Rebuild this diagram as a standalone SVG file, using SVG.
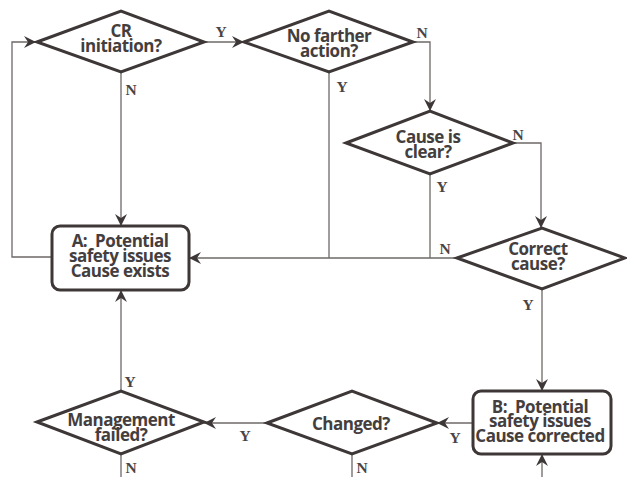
<svg xmlns="http://www.w3.org/2000/svg" width="627" height="477" viewBox="0 0 627 477">
<style>
.shape{fill:#fff;stroke:#3e3737;stroke-width:3;stroke-linejoin:miter}
.box{fill:#fff;stroke:#3e3737;stroke-width:3}
.conn{fill:none;stroke:#6e6868;stroke-width:1.3}
.t{font-family:"Open Sans","Noto Sans",sans-serif;font-weight:700;font-size:17px;fill:#443e3e;text-anchor:middle;letter-spacing:-0.5px}
.lbl{font-family:"Liberation Serif",serif;font-weight:700;font-size:15.5px;fill:#4a4444;text-anchor:middle}
</style>
<defs>
<marker id="arr" markerUnits="userSpaceOnUse" markerWidth="14" markerHeight="12" refX="12" refY="6" orient="auto">
<path d="M0,0 L12,6 L0,12 L4,6 z" fill="#3e3737"/>
</marker>
</defs>
<g id="connectors">
<polyline class="conn" points="52,257 12,257 12,42 36,42" marker-end="url(#arr)"/>
<line class="conn" x1="204" y1="42" x2="244" y2="42" marker-end="url(#arr)"/>
<line class="conn" x1="121" y1="72" x2="121" y2="226" marker-end="url(#arr)"/>
<line class="conn" x1="329" y1="72" x2="329" y2="258"/>
<polyline class="conn" points="413,42 430,42 430,111" marker-end="url(#arr)"/>
<line class="conn" x1="430" y1="174" x2="430" y2="258"/>
<polyline class="conn" points="513,143 541,143 541,228" marker-end="url(#arr)"/>
<line class="conn" x1="457" y1="258" x2="189" y2="258" marker-end="url(#arr)"/>
<line class="conn" x1="542" y1="289" x2="542" y2="391" marker-end="url(#arr)"/>
<line class="conn" x1="473" y1="423" x2="437" y2="423" marker-end="url(#arr)"/>
<line class="conn" x1="267" y1="423" x2="204" y2="423" marker-end="url(#arr)"/>
<line class="conn" x1="121" y1="391" x2="121" y2="290" marker-end="url(#arr)"/>
<line class="conn" x1="121" y1="454" x2="121" y2="477"/>
<line class="conn" x1="352" y1="454" x2="352" y2="477"/>
<line class="conn" x1="542" y1="477" x2="542" y2="454" marker-end="url(#arr)"/>
<text class="lbl" x="221" y="37">Y</text>
<text class="lbl" x="131" y="95">N</text>
<text class="lbl" x="342" y="92">Y</text>
<text class="lbl" x="422" y="38">N</text>
<text class="lbl" x="518" y="140">N</text>
<text class="lbl" x="442" y="192">Y</text>
<text class="lbl" x="445" y="254">N</text>
<text class="lbl" x="528" y="310">Y</text>
<text class="lbl" x="130" y="387">Y</text>
<text class="lbl" x="245" y="441">Y</text>
<text class="lbl" x="131" y="473">N</text>
<text class="lbl" x="455" y="443">Y</text>
<text class="lbl" x="362" y="473">N</text>
</g>
<g id="cr-initiation">
<polygon class="shape" points="37,42 121,11 204,42 121,72"/>
<text class="t" x="121" y="37">CR</text>
<text class="t" x="121" y="52">initiation?</text>
</g>
<g id="no-farther-action">
<polygon class="shape" points="244,42 329,11 413,42 329,72"/>
<text class="t" x="329" y="42">No farther</text>
<text class="t" x="329" y="57">action?</text>
</g>
<g id="cause-is-clear">
<polygon class="shape" points="346,143 430,111 513,143 430,174"/>
<text class="t" x="428" y="143">Cause is</text>
<text class="t" x="428" y="158">clear?</text>
</g>
<g id="correct-cause">
<polygon class="shape" points="457,258 542,228 625,258 542,289"/>
<text class="t" x="538" y="255">Correct</text>
<text class="t" x="538" y="270">cause?</text>
</g>
<g id="box-a">
<rect class="box" x="52" y="226" width="137" height="64" rx="8"/>
<text class="t" x="120" y="247" xml:space="preserve">A:  Potential</text>
<text class="t" x="120" y="262">safety issues</text>
<text class="t" x="120" y="277">Cause exists</text>
</g>
<g id="box-b">
<rect class="box" x="473" y="391" width="138" height="63" rx="8"/>
<text class="t" x="540" y="413" xml:space="preserve">B:  Potential</text>
<text class="t" x="540" y="427">safety issues</text>
<text class="t" x="540" y="442">Cause corrected</text>
</g>
<g id="changed">
<polygon class="shape" points="267,423 352,391 437,423 352,454"/>
<text class="t" x="351" y="430">Changed?</text>
</g>
<g id="management-failed">
<polygon class="shape" points="37,422 121,391 204,422 121,454"/>
<text class="t" x="121" y="426">Management</text>
<text class="t" x="121" y="441">failed?</text>
</g>
</svg>
